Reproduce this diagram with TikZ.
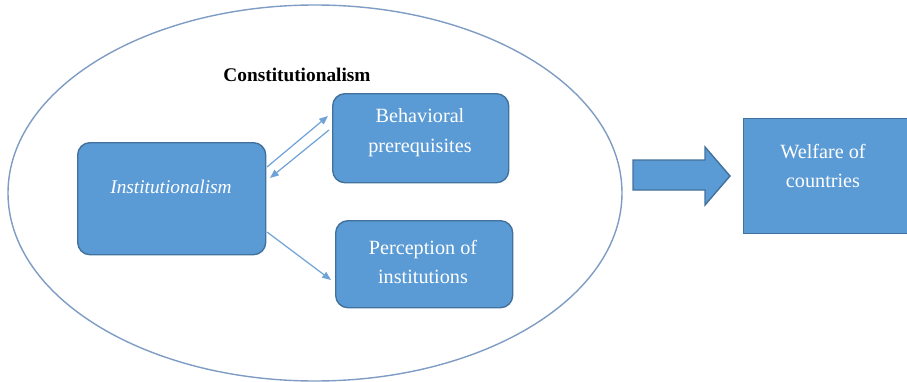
\documentclass[tikz,border=0pt]{standalone}
\usepackage{fontspec}
\setmainfont{Liberation Serif}
\usetikzlibrary{arrows.meta}
\definecolor{boxfill}{HTML}{5B9BD5}
\definecolor{boxline}{HTML}{41719C}
\definecolor{ellline}{HTML}{7F9CC4}
\definecolor{conn}{HTML}{6FA3D8}
\tikzset{
  rbox/.style={draw=boxline, line width=0.8pt, fill=boxfill, rounded corners=7pt, text=white, align=center, font=\fontsize{11.5}{17}\selectfont, inner sep=0pt},
  sbox/.style={draw=boxline, line width=0.8pt, fill=boxfill, text=white, align=center, font=\fontsize{11.5}{17}\selectfont, inner sep=0pt},
  link/.style={draw=conn, line width=0.7pt, -{Triangle[length=5pt,width=4pt]}},
}
\begin{document}
\begin{tikzpicture}[x=0.02cm,y=-0.02cm]
\useasboundingbox (0,0) rectangle (907,382);
\draw[ellline, line width=0.8pt] (315,193) ellipse [x radius=307, y radius=188];
\node[font=\bfseries\fontsize{11}{13}\selectfont] (cons) at (297,75) {Constitutionalism};
\node[rbox, minimum width=188*0.02cm, minimum height=112*0.02cm, anchor=north west] (inst) at (77,142) {};
\node[text=white, font=\itshape\fontsize{11}{13}\selectfont] (instt) at (171,187) {Institutionalism};
\node[rbox, minimum width=176*0.02cm, minimum height=89*0.02cm, anchor=north west] (beh) at (332,93) {};
\node[text=white, align=center, font=\fontsize{11.5}{17}\selectfont] (beht) at (420,133) {Behavioral\\prerequisites};
\node[rbox, minimum width=177*0.02cm, minimum height=87*0.02cm, anchor=north west] (perc) at (335,220) {};
\node[text=white, align=center, font=\fontsize{11.5}{17}\selectfont] (perct) at (423,262) {Perception of\\institutions};
\node[sbox, minimum width=164*0.02cm, minimum height=115*0.02cm, anchor=north west] (wel) at (743,118) {};
\node[text=white, align=center, font=\fontsize{11.5}{17}\selectfont] (welt) at (823,166) {Welfare of\\countries};
\coordinate (a1s) at (267,167);
\coordinate (a1e) at (328,116);
\coordinate (a2s) at (329,130);
\coordinate (a2e) at (270,178);
\coordinate (a3s) at (267,232);
\coordinate (a3e) at (331,280);
\draw[link] (a1s) -- (a1e);
\draw[link] (a2s) -- (a2e);
\draw[link] (a3s) -- (a3e);
\draw[draw=boxline, line width=0.8pt, fill=boxfill] (633,160) -- (705,160) -- (705,147) -- (730,176) -- (705,205) -- (705,190) -- (633,190) -- cycle;
\end{tikzpicture}
\end{document}
